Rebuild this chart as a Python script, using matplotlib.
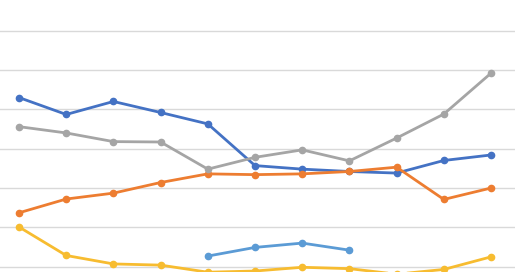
import numpy as np
from matplotlib import pyplot as plt

# values (gridline step = 10)
x = np.arange(11)
series_blue = [53.0, 48.7, 52.0, 49.2, 46.3, 35.7, 34.8, 34.2, 33.8, 37.0, 38.4]
series_orange = [23.7, 27.2, 28.7, 31.4, 33.6, 33.4, 33.6, 34.2, 35.3, 27.1, 30.0]
series_grey = [45.6, 44.0, 41.8, 41.7, 34.8, 37.8, 39.7, 36.9, 42.7, 48.8, 59.2]
series_yellow = [20.1, 12.85, 10.7, 10.4, 8.6, 8.9, 9.85, 9.5, 8.1, 9.3, 12.5]
x_light = [4, 5, 6, 7]
series_light = [12.7, 14.9, 16.0, 14.2]

fig = plt.figure(figsize=(5.2, 2.72), dpi=100)
ax = fig.add_axes([0, 0, 515 / 520, 1])

ax.set_xlim(-0.4025, 10.508)
ax.set_ylim(8.65, 77.8)
ax.set_yticks(np.arange(10, 71, 10))
ax.grid(axis="y", color="#d9d9d9", linewidth=1)
ax.set_axisbelow(True)
ax.tick_params(left=False, bottom=False, labelleft=False, labelbottom=False)
for s in ax.spines.values():
    s.set_visible(False)

style = dict(linewidth=2, marker="o", markersize=4.5)
ax.plot(x, series_blue, color="#4472c4", **style)
ax.plot(x, series_orange, color="#ed7d31", **style)
ax.plot(x, series_grey, color="#a5a5a5", **style)
ax.plot(x, series_yellow, color="#f7bc30", **style)
ax.plot(x_light, series_light, color="#5b9bd5", **style)

fig.savefig("out.png", dpi=100)
